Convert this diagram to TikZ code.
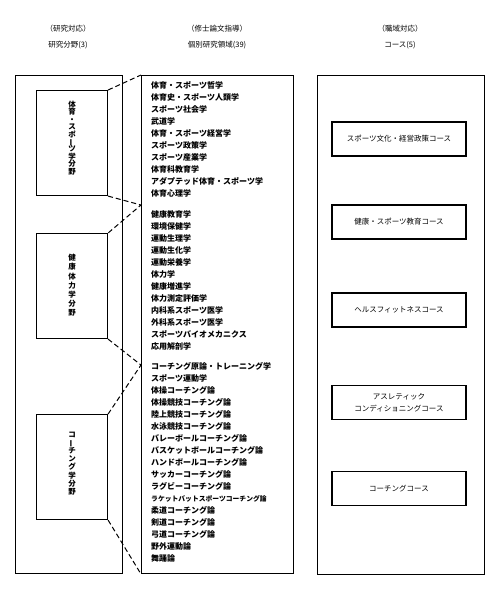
\documentclass[tikz,border=0pt]{standalone}
\usepackage{fontspec}
\usepackage{graphicx}
\newfontfamily\jp{Noto Sans CJK JP}
\newcommand\vbarchar{\smash{\rotatebox[origin=c]{90}{ー}}}
\begin{document}
\lineskiplimit=-10pt
\begin{tikzpicture}[x=1pt,y=-1pt,
  frame/.style={draw, line width=1.1pt, inner sep=0pt, anchor=north west},
  innerbox/.style={draw, line width=1.1pt, minimum width=71pt, minimum height=105pt, inner sep=0pt, anchor=north west},
  vtext/.style={inner sep=0pt, align=center},
  course/.style={draw, line width=1.1pt, minimum width=134pt, minimum height=34pt, inner sep=0pt, align=center, font=\jp\fontsize{7.5}{12}\selectfont},
  head/.style={font=\jp\fontsize{7.5}{9}\selectfont, inner sep=0pt},
  item/.style={anchor=base west, inner sep=0pt, font=\jp\bfseries\fontsize{8}{10}\selectfont},
  link/.style={line width=1pt, dash pattern=on 5pt off 3pt}]
\useasboundingbox (0,0) rectangle (500,600);
\fill[white] (0,0) rectangle (500,600);

% headers
\node[head] (h1) at (68,29) {（研究対応）};
\node[head] (h2) at (68,45) {研究分野(3)};
\node[head] (h3) at (217,29) {（修士論文指導）};
\node[head] (h4) at (217,45) {個別研究領域(39)};
\node[head] (h5) at (400,29) {（職域対応）};
\node[head] (h6) at (400,45) {コース(5)};

% frames
\node[frame, minimum width=107pt, minimum height=498pt] (L) at (15,75) {};
\node[frame, minimum width=152pt, minimum height=498pt] (M) at (141,75) {};
\node[frame, minimum width=167pt, minimum height=499pt] (R) at (317,75) {};

% research fields
\node[innerbox] (A) at (36,90) {};
\node[innerbox] (B) at (36,233) {};
\node[innerbox] (C) at (36,414) {};
\node[vtext, font=\jp\bfseries\fontsize{7.5}{7.4}\selectfont] (At) at (72,138)
  {体\\育\\・\\ス\\ポ\\\vbarchar\\ツ\\学\\分\\野};
\node[vtext, font=\jp\bfseries\fontsize{7.5}{9.2}\selectfont] (Bt) at (72,285.5)
  {健\\康\\体\\力\\学\\分\\野};
\node[vtext, font=\jp\bfseries\fontsize{7.5}{8.1}\selectfont] (Ct) at (72,463.5)
  {コ\\\vbarchar\\チ\\ン\\グ\\学\\分\\野};

% individual areas
\foreach \t [count=\i] in {体育・スポーツ哲学,体育史・スポーツ人類学,スポーツ社会学,武道学,体育・スポーツ経営学,スポーツ政策学,スポーツ産業学,体育科教育学,アダプテッド体育・スポーツ学,体育心理学}
  \node[item] (p\i) at (151,{88+12*(\i-1)}) {\t};
\foreach \t [count=\i] in {健康教育学,環境保健学,運動生理学,運動生化学,運動栄養学,体力学,健康増進学,体力測定評価学,内科系スポーツ医学,外科系スポーツ医学,スポーツバイオメカニクス,応用解剖学}
  \node[item] (q\i) at (151,{217+12*(\i-1)}) {\t};
\foreach \t [count=\i] in {コーチング原論・トレーニング学,スポーツ運動学,体操コーチング論,体操競技コーチング論,陸上競技コーチング論,水泳競技コーチング論,バレーボールコーチング論,バスケットボールコーチング論,ハンドボールコーチング論,サッカーコーチング論,ラグビーコーチング論,{\fontsize{6.8}{8}\selectfont ラケットバットスポーツコーチング論},柔道コーチング論,剣道コーチング論,弓道コーチング論,野外運動論,舞踊論}
  \node[item] (r\i) at (151,{369+12*(\i-1)}) {\t};

% courses
\node[course] (c1) at (399,139) {スポーツ文化・経営政策コース};
\node[course] (c2) at (399,222) {健康・スポーツ教育コース};
\node[course] (c3) at (399,310) {ヘルスフィットネスコース};
\node[course] (c4) at (399,402.5) {アスレティック\\コンディショニングコース};
\node[course] (c5) at (399,488.5) {コーチングコース};

% links
\coordinate (m1) at (141,205);
\coordinate (m2) at (141,365);
\draw[link] (A.north east) -- (M.north west);
\draw[link] (A.south east) -- (m1) -- (B.north east);
\draw[link] (B.south east) -- (m2) -- (C.north east);
\draw[link] (C.south east) -- (M.south west);
\end{tikzpicture}
\end{document}
